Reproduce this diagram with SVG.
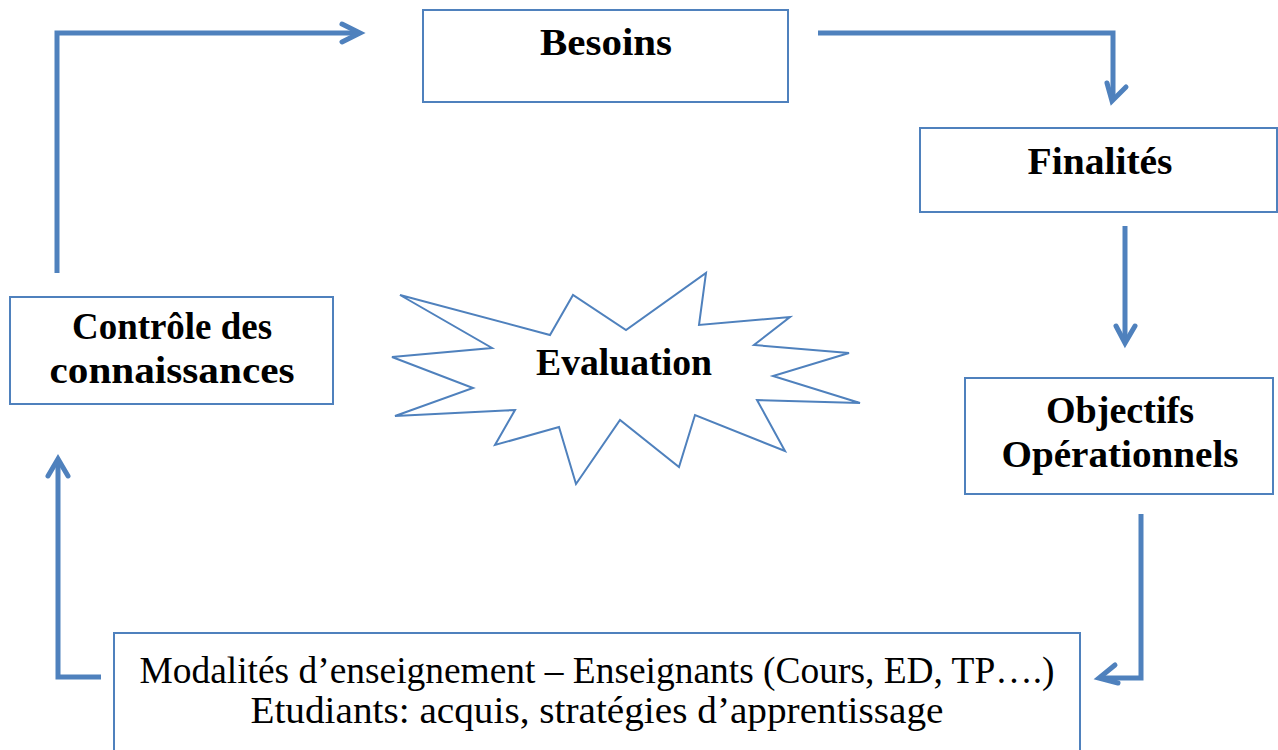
<svg xmlns="http://www.w3.org/2000/svg" width="1278" height="750" viewBox="0 0 1278 750">
<style>
.box{fill:#fff;stroke:#4F81BD;stroke-width:2}
.conn{fill:none;stroke:#4F81BD;stroke-width:5;stroke-linejoin:miter}
.head{fill:none;stroke:#4F81BD;stroke-width:5;stroke-linecap:round;stroke-linejoin:miter}
.b{font-family:"Liberation Serif","DejaVu Serif",serif;font-weight:bold;font-size:38px;fill:#000;text-anchor:middle}
.r{font-family:"Liberation Serif","DejaVu Serif",serif;font-size:37px;fill:#000;text-anchor:middle}
</style>
<rect width="1278" height="750" fill="#fff"/>
<g id="connectors">
<path class="conn" d="M57,273 V33 H358"/>
<path class="head" d="M342,24 L360,33 L342,42"/>
<path class="conn" d="M818,33 H1113 V98"/>
<path class="head" d="M1107,83 L1112,101 L1126,87"/>
<path class="conn" d="M1125,226 V342"/>
<path class="head" d="M1116,326 L1125,343 L1135,326"/>
<path class="conn" d="M1141,514 V678 H1101"/>
<path class="head" d="M1115,665 L1099,678 L1118,683"/>
<path class="conn" d="M101,677 H58 V461"/>
<path class="head" d="M48,476 L58,459 L68,476"/>
</g>
<g id="besoins">
<rect class="box" x="423" y="10" width="365" height="92"/>
<text class="b" x="606" y="55" textLength="132" lengthAdjust="spacingAndGlyphs">Besoins</text>
</g>
<g id="finalites">
<rect class="box" x="920" y="128" width="357" height="84"/>
<text class="b" x="1100" y="174" textLength="145" lengthAdjust="spacingAndGlyphs">Finalités</text>
</g>
<g id="objectifs">
<rect class="box" x="965" y="378" width="308" height="116"/>
<text class="b" x="1120" y="423" textLength="148" lengthAdjust="spacingAndGlyphs">Objectifs</text>
<text class="b" x="1120" y="467" textLength="237" lengthAdjust="spacingAndGlyphs">Opérationnels</text>
</g>
<g id="controle">
<rect class="box" x="10" y="297" width="323" height="107"/>
<text class="b" x="172" y="339" textLength="200" lengthAdjust="spacingAndGlyphs">Contrôle des</text>
<text class="b" x="172" y="383" textLength="245" lengthAdjust="spacingAndGlyphs">connaissances</text>
</g>
<g id="evaluation">
<polygon fill="#fff" stroke="#4F81BD" stroke-width="2" stroke-linejoin="miter" points="400,295 550,335 573,295 626,330 706,273 699,325 790,317 754,345 849,353 773,376 860,403 757,400 785,451 695,415 679,467 620,420 576,484 559,427 495,445 515,410 395,416 473,388 392,357 492,348"/>
<text class="b" x="624" y="375" textLength="176" lengthAdjust="spacingAndGlyphs">Evaluation</text>
</g>
<g id="modalites">
<rect class="box" x="114" y="633" width="966" height="130"/>
<text class="r" x="597" y="683" textLength="915" lengthAdjust="spacingAndGlyphs">Modalités d’enseignement – Enseignants (Cours, ED, TP….)</text>
<text class="r" x="597" y="723" textLength="693" lengthAdjust="spacingAndGlyphs">Etudiants: acquis, stratégies d’apprentissage</text>
</g>
</svg>
